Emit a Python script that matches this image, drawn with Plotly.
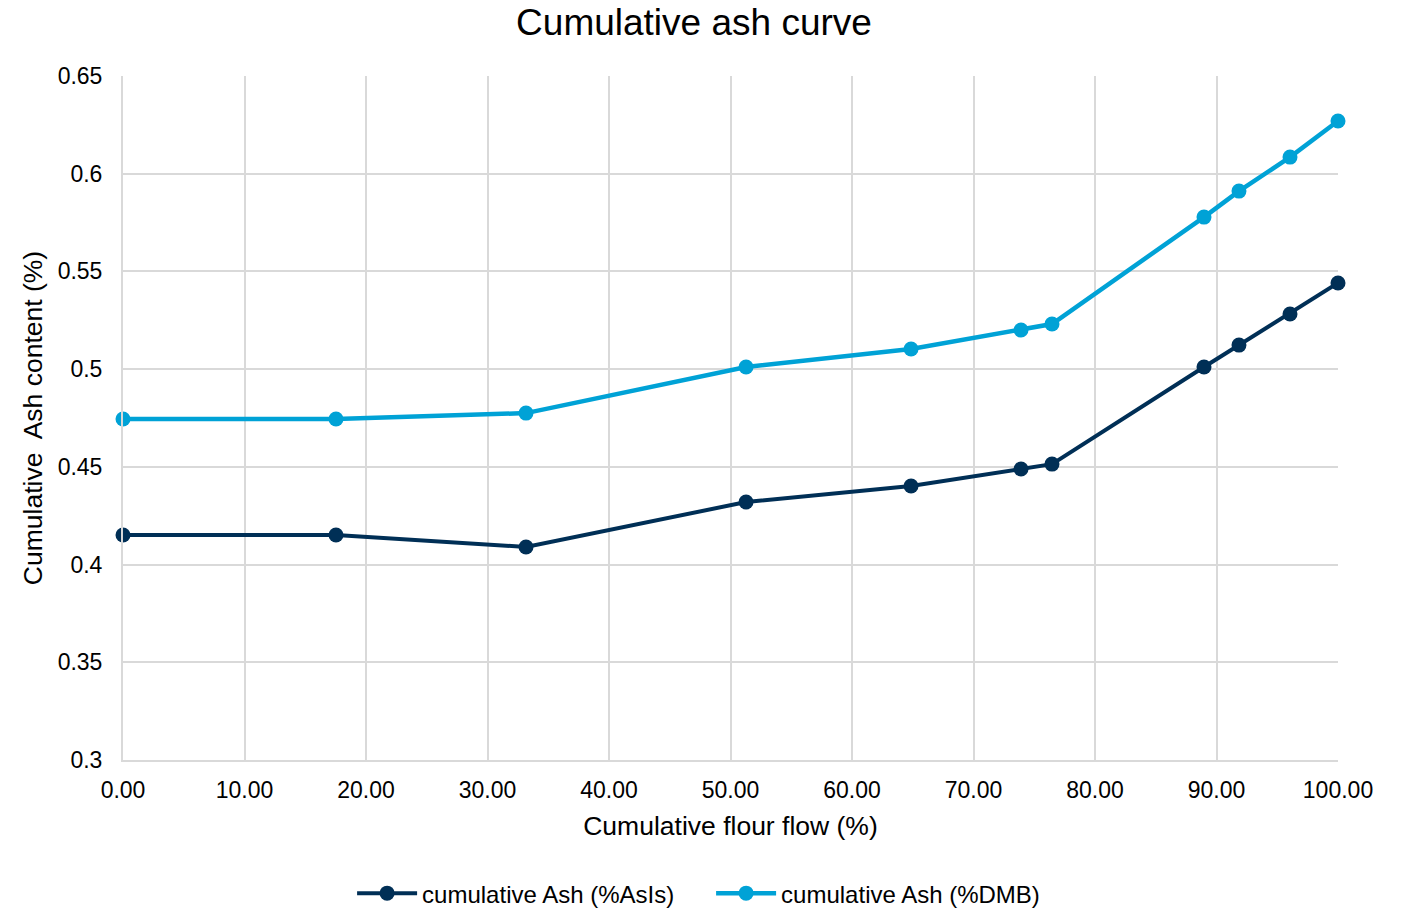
import plotly.graph_objects as go

# Cumulative flour flow (%) for each stream
flour_flow = [0.0, 17.53, 33.17, 51.28, 64.86, 73.91, 76.46, 88.97, 91.85, 96.05, 100.0]

# Cumulative ash content (%)
ash_as_is = [0.4151, 0.4151, 0.4090, 0.4320, 0.4402, 0.4489, 0.4514, 0.5011, 0.5123, 0.5282, 0.5441]
ash_dmb = [0.4745, 0.4745, 0.4775, 0.5011, 0.5103, 0.5200, 0.5231, 0.5778, 0.5911, 0.6085, 0.6270]

x_ticks = [0, 10, 20, 30, 40, 50, 60, 70, 80, 90, 100]
y_ticks = [0.3, 0.35, 0.4, 0.45, 0.5, 0.55, 0.6, 0.65]

FONT = "Liberation Sans, Arial, sans-serif"
GRID = "#d9d9d9"

fig = go.Figure()
fig.add_trace(go.Scatter(
    x=flour_flow, y=ash_as_is, mode="lines+markers",
    name="cumulative Ash (%AsIs)",
    line=dict(color="#002f56", width=4),
    marker=dict(color="#002f56", size=15),
    cliponaxis=False,
))
fig.add_trace(go.Scatter(
    x=flour_flow, y=ash_dmb, mode="lines+markers",
    name="cumulative Ash (%DMB)",
    line=dict(color="#00a2d6", width=4.5),
    marker=dict(color="#00a2d6", size=15),
    cliponaxis=False,
))

fig.update_layout(
    width=1402, height=909,
    paper_bgcolor="white", plot_bgcolor="white",
    font=dict(family=FONT, color="#000000"),
    margin=dict(l=123, r=64, t=76, b=149),
    title=dict(text="Cumulative ash curve", x=0.495, xanchor="center",
               y=0.976, yanchor="middle",
               font=dict(size=37, family=FONT, color="#000000")),
    xaxis=dict(
        range=[0, 100], tickvals=x_ticks,
        ticktext=[f"{v:.2f}" for v in x_ticks],
        showgrid=True, gridcolor=GRID, gridwidth=2,
        zeroline=False, showline=True, linecolor=GRID, linewidth=2,
        ticks="", ticklabelstandoff=8, tickfont=dict(size=23, family=FONT),
        title=dict(text="Cumulative flour flow (%)", font=dict(size=26.5, family=FONT), standoff=15),
    ),
    yaxis=dict(
        range=[0.3, 0.65], tickvals=y_ticks,
        ticktext=[f"{v:g}" for v in y_ticks],
        showgrid=True, gridcolor=GRID, gridwidth=2,
        zeroline=False, showline=True, linecolor=GRID, linewidth=2,
        ticks="", ticklabelstandoff=14, tickfont=dict(size=23, family=FONT),
        title=dict(text="Cumulative  Ash content (%)", font=dict(size=26.5, family=FONT), standoff=7),
    ),
    legend=dict(orientation="h", xref="container", x=0.5072, xanchor="center",
                yref="container", y=0.017, yanchor="middle",
                font=dict(size=24, family=FONT), itemwidth=60,
                entrywidth=284, entrywidthmode="pixels"),
    showlegend=True,
)

fig.write_html("out.html")
